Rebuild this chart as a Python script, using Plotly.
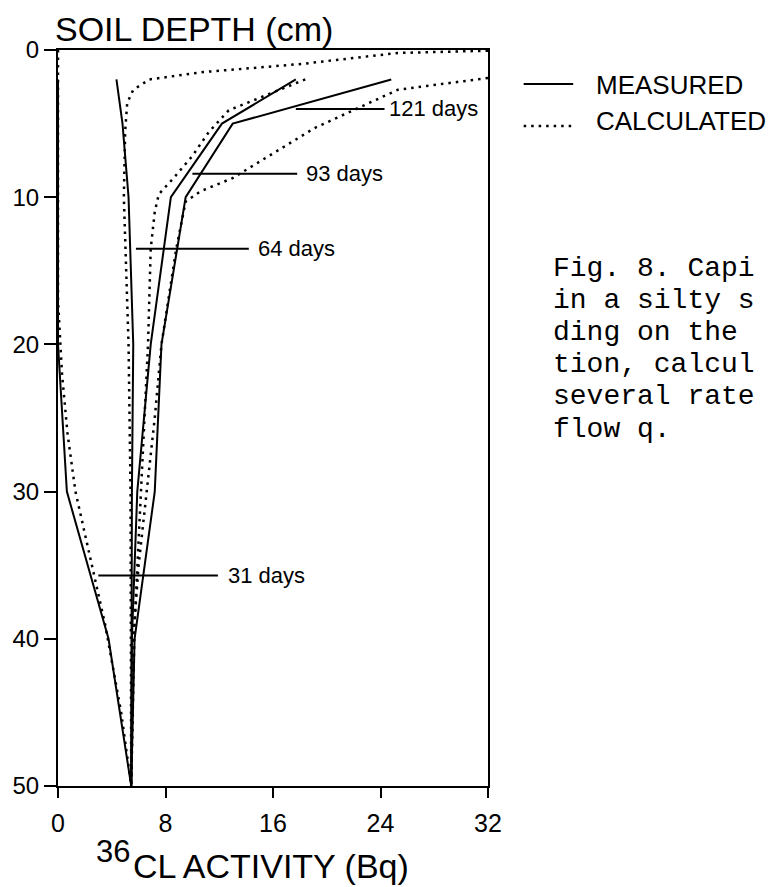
import plotly.graph_objects as go

# ---------------- data (activity in Bq, depth in cm) ----------------
meas_depth = [2, 5, 10, 20, 30, 40, 50]
meas_31 = [0, 0, 0, 0, 0.66, 3.76, 5.45]
meas_64 = [4.35, 4.8, 5.25, 5.6, 5.5, 5.45, 5.45]
meas_93 = [17.7, 12.2, 8.4, 6.9, 5.9, 5.5, 5.45]
meas_121 = [24.8, 13.0, 9.5, 7.7, 7.2, 5.7, 5.45]

calc_31_depth = [0, 17, 22, 26, 30, 35, 39, 45, 50]
calc_31 = [0, 0, 0.3, 0.7, 1.3, 2.5, 3.5, 4.7, 5.45]
calc_64_depth = [0.05, 0.2, 0.95, 1.5, 2.0, 2.7, 3.6, 5.5, 10, 15, 20, 30, 40, 50]
calc_64 = [32, 25.3, 18.1, 10.8, 6.8, 5.6, 5.15, 5.0, 4.9, 5.05, 5.25, 5.4, 5.45, 5.45]
calc_93_depth = [2.0, 4.1, 5.6, 7.2, 8.7, 9.8, 11, 13.5, 20, 26, 32, 39, 50]
calc_93 = [18.4, 12.7, 11.2, 10.0, 8.6, 7.5, 7.2, 6.9, 6.7, 6.4, 6.1, 5.7, 5.45]
calc_121_depth = [1.9, 2.7, 5.3, 8.7, 9.6, 10.3, 13.5, 20, 25, 30, 35, 40, 50]
calc_121 = [32, 25.3, 19.1, 13.0, 10.6, 9.5, 8.8, 7.7, 7.2, 6.6, 6.0, 5.6, 5.45]

labels = ["121 days", "93 days", "64 days", "31 days"]
label_depth = [4.0, 8.4, 13.5, 35.7]
pointer_from = [17.7, 10.0, 5.8, 3.0]
pointer_to = [24.3, 17.8, 14.2, 11.9]
label_x = [24.5, 18.3, 14.7, 12.5]

x_ticks = [0, 8, 16, 24, 32]
y_ticks = [0, 10, 20, 30, 40, 50]

caption_lines = ["Fig. 8. Capi", "in a silty s", "ding on the", "tion, calcul",
                 "several rate", "flow q."]
legend_names = ["MEASURED", "CALCULATED"]

# ---------------- figure ----------------
W, H = 774, 887
L, R, T, B = 54, 488, 50, 786


def px_x(px):
    return (px - L) / (R - L)


def px_y(py):
    return 1 - (py - T) / (B - T)


FONT = "Liberation Sans"
DOT = "2.5px,5px"
fig = go.Figure()

for xs in [meas_31, meas_64, meas_93, meas_121]:
    fig.add_trace(go.Scatter(x=xs, y=meas_depth, mode="lines",
                             line=dict(color="black", width=2),
                             showlegend=False, hoverinfo="skip"))

for xs, ys in [(calc_31, calc_31_depth), (calc_64, calc_64_depth),
               (calc_93, calc_93_depth), (calc_121, calc_121_depth)]:
    fig.add_trace(go.Scatter(x=xs, y=ys, mode="lines",
                             line=dict(color="black", width=2.5, dash=DOT),
                             showlegend=False, hoverinfo="skip"))

for x0, x1, d in zip(pointer_from, pointer_to, label_depth):
    fig.add_trace(go.Scatter(x=[x0, x1], y=[d, d], mode="lines",
                             line=dict(color="black", width=2),
                             showlegend=False, hoverinfo="skip"))

annotations = []
for lab, lx, d in zip(labels, label_x, label_depth):
    annotations.append(dict(x=lx, y=d, xref="x", yref="y", text=lab,
                            showarrow=False, xanchor="left", yanchor="middle",
                            font=dict(family=FONT, size=22, color="black")))

# axis titles
annotations.append(dict(x=px_x(49), y=px_y(28.5), xref="paper", yref="paper",
                        text="SOIL DEPTH (cm)", showarrow=False,
                        xanchor="left", yanchor="middle",
                        font=dict(family=FONT, size=34, color="black")))
annotations.append(dict(x=px_x(90), y=px_y(851), xref="paper", yref="paper",
                        text="36", showarrow=False, xanchor="left", yanchor="middle",
                        font=dict(family=FONT, size=31, color="black")))
annotations.append(dict(x=px_x(129), y=px_y(866), xref="paper", yref="paper",
                        text="CL ACTIVITY (Bq)", showarrow=False,
                        xanchor="left", yanchor="middle", borderpad=0,
                        font=dict(family=FONT, size=34, color="black")))

# legend texts
for name, py in zip(legend_names, [85, 121]):
    annotations.append(dict(x=px_x(595), y=px_y(py), xref="paper", yref="paper",
                            text=name, showarrow=False, xanchor="left",
                            yanchor="middle",
                            font=dict(family=FONT, size=26, color="black")))

# caption
for i, line in enumerate(caption_lines):
    annotations.append(dict(x=px_x(553), y=px_y(268 + 32.2 * i), xref="paper",
                            yref="paper", text=line, showarrow=False,
                            xanchor="left", yanchor="middle", borderpad=0,
                            font=dict(family="Liberation Mono", size=28,
                                      color="black")))

shapes = [
    dict(type="line", xref="paper", yref="paper", x0=px_x(524), x1=px_x(574),
         y0=px_y(84), y1=px_y(84), line=dict(color="black", width=2)),
    dict(type="line", xref="paper", yref="paper", x0=px_x(524), x1=px_x(572),
         y0=px_y(126), y1=px_y(126), line=dict(color="black", width=2.5, dash=DOT)),
]

fig.update_layout(
    width=W, height=H,
    margin=dict(l=L, r=W - R, t=T, b=H - B, pad=0),
    paper_bgcolor="white", plot_bgcolor="white",
    showlegend=False,
    annotations=annotations, shapes=shapes,
    xaxis=dict(range=[0, 32], tickvals=x_ticks, ticks="outside", ticklen=10,
               tickwidth=2, tickcolor="black", showline=True, linewidth=2,
               linecolor="black", mirror=True, showgrid=False, zeroline=False,
               tickfont=dict(family=FONT, size=25, color="black"),
               ticklabelstandoff=4, fixedrange=True),
    yaxis=dict(range=[50, 0], tickvals=y_ticks, ticks="outside", ticklen=12,
               tickwidth=2, tickcolor="black", showline=True, linewidth=2,
               linecolor="black", mirror=True, showgrid=False, zeroline=False,
               tickfont=dict(family=FONT, size=24, color="black"),
               ticklabelstandoff=0, fixedrange=True),
)

fig.write_html("out.html")
